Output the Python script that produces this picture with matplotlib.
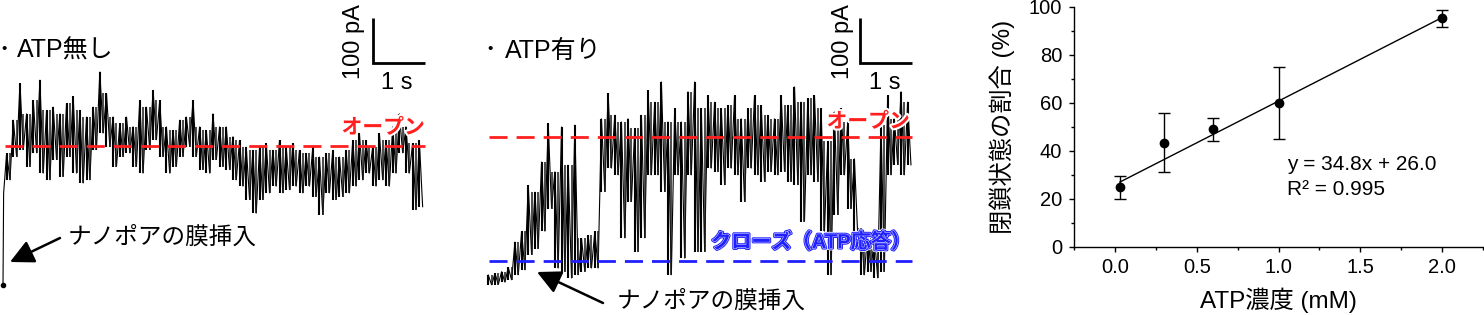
import numpy as np
import matplotlib
matplotlib.use("Agg")
import matplotlib.pyplot as plt
import matplotlib.patheffects as pe

plt.rcParams['font.family'] = ['Liberation Sans', 'Noto Sans CJK JP']
plt.rcParams['lines.scale_dashes'] = False

# ---------------- data ----------------
# Current traces: envelope (high / low) of the recorded current, in pA,
# sampled every SAMPLE_DT seconds.
SAMPLE_DT = 0.128
T1_START = 0.07
INSERT1_T = [0.0, 0.012]
INSERT1_I = [0.0, 204.0]
TRACE1_HIGH = [293, 367, 448, 381, 411, 456, 389, 396, 381, 404, 419, 389, 374, 396, 474, 426,
               374, 359, 374, 352, 411, 396, 433, 411, 352, 344, 367, 374, 411, 352, 344, 381,
               352, 352, 330, 322, 307, 300, 307, 315, 300, 322, 307, 315, 300, 293, 307, 285,
               293, 300, 285, 300, 322, 337, 322, 307, 337, 322, 352, 381, 352, 315, 322]
TRACE1_LOW = [233, 285, 300, 263, 293, 248, 233, 278, 241, 285, 248, 226, 233, 300, 337, 307,
              263, 285, 293, 263, 248, 300, 322, 285, 248, 263, 285, 307, 285, 256, 248, 278,
              263, 256, 233, 219, 189, 159, 189, 204, 219, 204, 211, 219, 204, 219, 196, 156,
              204, 189, 196, 204, 219, 233, 248, 219, 233, 219, 248, 293, 248, 167, 174]
OPEN1_PA = 309

T2_START = 0.006
TRACE2_HIGH = [22, 26, 30, 39, 96, 119, 222, 207, 274, 359, 252, 352, 267, 356, 104, 111,
               119, 370, 426, 378, 363, 370, 348, 378, 433, 407, 452, 363, 393, 363, 430, 452,
               393, 422, 407, 393, 400, 422, 370, 393, 422, 400, 378, 370, 422, 400, 441, 407,
               415, 422, 393, 319, 385, 393, 363, 281, 126, 119, 111, 356, 422, 370, 430, 407]
TRACE2_LOW = [0, 1, 6, 11, 22, 33, 67, 81, 119, 170, 37, 30, 15, 22, 30, 37,
              37, 207, 259, 244, 104, 185, 74, 104, 244, 244, 207, 22, 244, 59, 244, 74,
              74, 259, 252, 222, 259, 244, 185, 259, 244, 230, 252, 244, 252, 230, 222, 141,
              244, 230, 119, 22, 156, 244, 170, 111, 22, 30, 15, 30, 244, 267, 244, 267]
OPEN2_PA = 329
CLOSED2_PA = 53

SCALE_PA = 100
SCALE_S = 1

# Closed-state fraction vs ATP concentration
ATP_MM = [0.03, 0.3, 0.6, 1.0, 2.0]
CLOSED_PCT = [25.0, 43.5, 49.0, 60.0, 95.3]
ERR_LOW = [20.2, 31.1, 44.3, 44.8, 91.5]
ERR_HIGH = [29.4, 55.8, 53.7, 74.9, 98.9]
FIT_SLOPE = 34.8
FIT_INTERCEPT = 26.0
FIT_R2 = 0.995

# ---------------- layout helpers ----------------
W, H, DPI = 1484, 315, 100
PX_PER_S = 52.0
PX_PER_PA = 0.45
fig = plt.figure(figsize=(W / DPI, H / DPI), dpi=DPI)

RED = '#ff1f1f'
BLUE = '#1f1fff'


def ftext(px, py, s, **kw):
    return fig.text(px / W, 1 - py / H, s, **kw)


def trace_axes(left_px, width_px, t0_px, i0_py):
    ax = fig.add_axes([left_px / W, 0, width_px / W, 1])
    ax.set_xlim((left_px - t0_px) / PX_PER_S, (left_px + width_px - t0_px) / PX_PER_S)
    ax.set_ylim((i0_py - H) / PX_PER_PA, i0_py / PX_PER_PA)
    ax.axis('off')
    return ax


def envelope_trace(t0, high, low):
    t, cur = [], []
    for k, (h, l) in enumerate(zip(high, low)):
        t += [t0 + k * SAMPLE_DT, t0 + (k + 0.5) * SAMPLE_DT]
        cur += [h, l]
    return np.array(t), np.array(cur)


def draw_trace(ax, t0, high, low, pre_t=None, pre_i=None):
    t, cur = envelope_trace(t0, high, low)
    if pre_t is not None:
        t = np.concatenate([pre_t, t])
        cur = np.concatenate([pre_i, cur])
    ax.plot(t, cur, color='black', lw=0.8, solid_joinstyle='miter')
    tk = t0 + np.arange(len(high)) * SAMPLE_DT
    ax.vlines(tk, low, high, color='black', lw=1.5)
    # bar joining each low to the following high
    ax.vlines(tk[1:] - 0.5 * SAMPLE_DT, np.minimum(low[:-1], high[1:]),
              np.minimum(high[:-1], high[1:]), color='#1a1a1a', lw=1.1)


def scale_bar(ax, t, i):
    ax.plot([t, t, t + SCALE_S], [i + SCALE_PA, i, i], color='black', lw=2,
            solid_joinstyle='miter', solid_capstyle='butt')


dash = (0, (13, 6.5))

# ---------------- panel 1 ----------------
ax1 = trace_axes(0, 440, 3, 285)
draw_trace(ax1, T1_START, np.array(TRACE1_HIGH), np.array(TRACE1_LOW), INSERT1_T, INSERT1_I)
ax1.plot([INSERT1_T[0]], [INSERT1_I[0]], 'o', color='black', ms=3)
ax1.plot([0.04, 8.12], [OPEN1_PA, OPEN1_PA], color=RED, lw=2, ls=dash)
scale_bar(ax1, 7.115, 493.3)

# ---------------- panel 2 ----------------
ax2 = trace_axes(470, 460, 488, 285)
draw_trace(ax2, T2_START, np.array(TRACE2_HIGH), np.array(TRACE2_LOW))
ax2.plot([0.02, 8.15], [OPEN2_PA, OPEN2_PA], color=RED, lw=2, ls=dash)
ax2.plot([0.02, 8.15], [CLOSED2_PA, CLOSED2_PA], color=BLUE, lw=2, ls=dash)
scale_bar(ax2, 7.154, 493.3)

# ---------------- texts for trace panels ----------------
FS = 18
for x_dot, x_txt, label in [(4, 17, 'ATP無し'), (490, 505, 'ATP有り')]:
    ftext(x_dot, 49, '•', ha='center', va='center', fontsize=11)
    ftext(x_txt, 57.5, label, ha='left', va='baseline', fontsize=FS)

for xp, xs in [(354, 397), (843, 885)]:
    ftext(xp, 42, '100 pA', rotation=90, ha='center', va='center', fontsize=17)
    ftext(xs, 89, '1 s', ha='center', va='baseline', fontsize=17)

ftext(68, 238, 'ナノポアの膜挿入', ha='left', va='center', fontsize=17)
ftext(617, 302, 'ナノポアの膜挿入', ha='left', va='center', fontsize=17)

red_fx = [pe.Stroke(linewidth=3, foreground='white'), pe.Normal()]
ftext(425, 128, 'オープン', ha='right', va='center', fontsize=15, fontweight='bold',
      color=RED, path_effects=red_fx)
ftext(910, 122, 'オープン', ha='right', va='center', fontsize=15, fontweight='bold',
      color=RED, path_effects=red_fx)
blue_fx = [pe.Stroke(linewidth=3.4, foreground='white'), pe.Stroke(linewidth=2.2, foreground=BLUE),
           pe.Stroke(linewidth=0.8, foreground='#ccccff'), pe.Normal()]
ftext(911, 242, 'クローズ（ATP応答）', ha='right', va='center', fontsize=14.5, fontweight='bold',
      color=BLUE, path_effects=blue_fx)

arrow_kw = dict(arrowstyle='-|>,head_length=0.9,head_width=0.45', mutation_scale=16,
                lw=1.8, color='black', shrinkA=0, shrinkB=0)
fig.add_artist(matplotlib.patches.FancyArrowPatch((60 / W, 1 - 238 / H), (10 / W, 1 - 262 / H),
                                                  transform=fig.transFigure, **arrow_kw))
fig.add_artist(matplotlib.patches.FancyArrowPatch((603 / W, 1 - 303 / H), (537 / W, 1 - 272 / H),
                                                  transform=fig.transFigure, **arrow_kw))

# ---------------- panel 3 ----------------
ax3 = fig.add_axes([1074 / W, (H - 247) / H, 409 / W, 240 / H])
pct = np.array(CLOSED_PCT)
yerr = [pct - np.array(ERR_LOW), np.array(ERR_HIGH) - pct]
ax3.errorbar(ATP_MM, pct, yerr=yerr, fmt='o', color='black', ms=6, capsize=4,
             elinewidth=1, capthick=1)
xf = np.array([ATP_MM[0], ATP_MM[-1]])
ax3.plot(xf, FIT_SLOPE * xf + FIT_INTERCEPT, color='black', lw=1)
ax3.set_xlim(-0.25, 2.25)
ax3.set_ylim(0, 100)
ax3.set_xticks([0.0, 0.5, 1.0, 1.5, 2.0])
ax3.set_xticks(np.arange(-0.25, 2.3, 0.25), minor=True)
ax3.set_yticks(range(0, 101, 20))
ax3.set_yticks(range(10, 100, 20), minor=True)
ax3.set_xticklabels(['0.0', '0.5', '1.0', '1.5', '2.0'])
for s in ['top', 'right']:
    ax3.spines[s].set_visible(False)
for s in ['left', 'bottom']:
    ax3.spines[s].set_linewidth(1.0)
ax3.tick_params(which='major', direction='out', length=3.6, width=1.0, labelsize=14.5)
ax3.tick_params(which='minor', direction='out', length=2.2, width=1.0)
ax3.tick_params(axis='y', pad=5)
ax3.tick_params(axis='x', pad=4.5)
ax3.set_xlabel('ATP濃度 (mM)', fontsize=17.5)
ax3.set_ylabel('閉鎖状態の割合 (%)', fontsize=17.5)
ax3.xaxis.set_label_coords(0.5, -0.17)
ax3.yaxis.set_label_coords(-0.145, 0.5)
ax3.text(1.052, 34.2, f'y = {FIT_SLOPE:.1f}x + {FIT_INTERCEPT:.1f}', fontsize=15, va='center')
ax3.text(1.052, 23.8, f'R² = {FIT_R2:.3f}', fontsize=15, va='center')

fig.savefig('out.png', dpi=DPI)
